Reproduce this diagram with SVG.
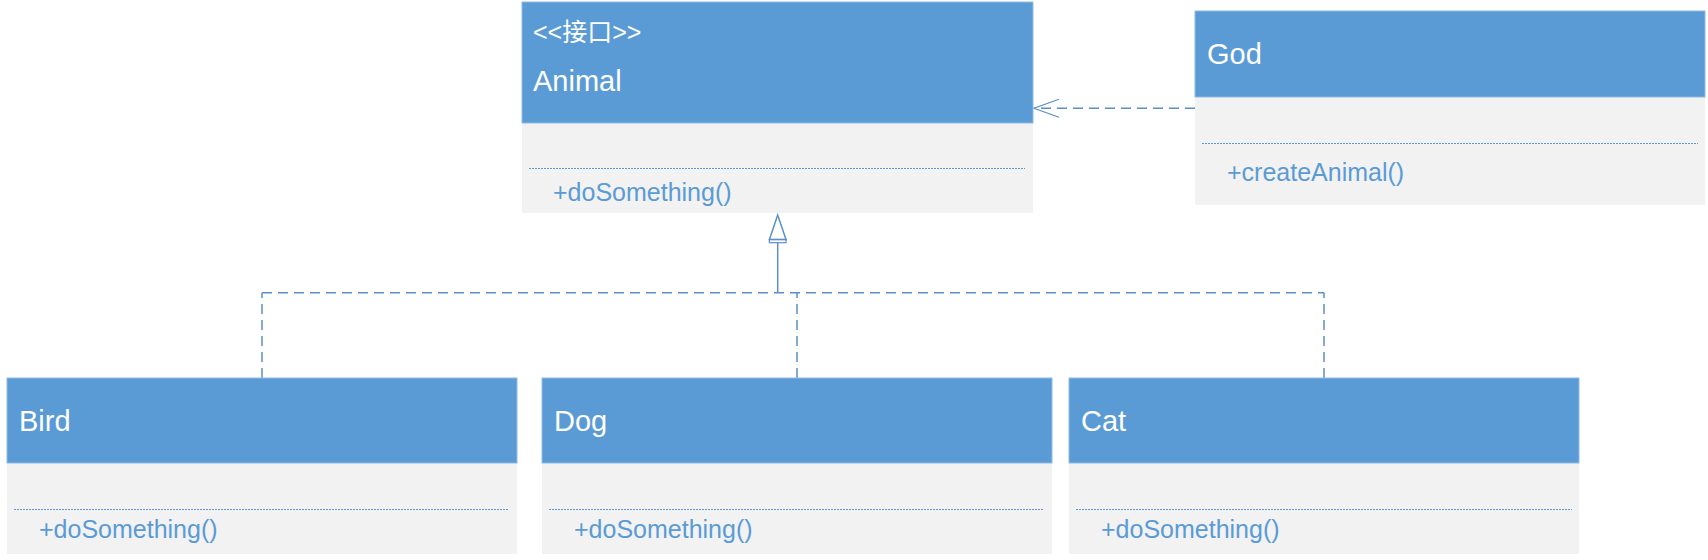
<svg xmlns="http://www.w3.org/2000/svg" width="1708" height="560" viewBox="0 0 1708 560">
<style>
.hdr{fill:#5b9bd5;stroke:#8fbbe3;stroke-width:1}
.body{fill:#f2f2f2}
.sep{stroke:#5b9bd5;stroke-width:1;stroke-dasharray:2 1;fill:none}
.name{font-family:"Liberation Sans","Noto Sans CJK SC",sans-serif;font-size:29px;fill:#ffffff}
.stereo{font-family:"Liberation Sans","Noto Sans CJK SC",sans-serif;font-size:25px;fill:#ffffff}
.op{font-family:"Liberation Sans","Noto Sans CJK SC",sans-serif;font-size:25px;fill:#5b9bd5}
.dash{stroke:#5b8fc8;stroke-width:1.5;stroke-dasharray:10 6;fill:none}
.solid{stroke:#5b8fc8;stroke-width:1.5;fill:none}
.thin{stroke:#5b8fc8;stroke-width:1.2;fill:none}
</style>
<rect width="1708" height="560" fill="#ffffff"/>
<g id="connectors">
<path class="dash" d="M1195 108.3 H1034"/>
<path class="thin" d="M1059 99.3 L1034 108.3 L1059 117.3"/>
<path class="dash" d="M262 292.7 H1324"/>
<path class="dash" d="M262 378 V292.7"/>
<path class="dash" d="M797 378 V292.7"/>
<path class="dash" d="M1324 378 V292.7"/>
<path class="solid" d="M777.7 292.7 V242.7"/>
<polygon class="solid" points="777.7,215 769.4,239.5 786,239.5" fill="#ffffff"/>
<rect class="thin" x="769.4" y="239.5" width="16.6" height="3.2" fill="#ffffff"/>
</g>
<g id="Animal">
<rect class="body" x="522" y="2" width="511" height="211"/>
<rect class="hdr" x="522" y="2" width="511" height="121"/>
<text class="stereo" x="533" y="41">&lt;&lt;接口&gt;&gt;</text>
<text class="name" x="533" y="91">Animal</text>
<line class="sep" x1="529" y1="168.5" x2="1025" y2="168.5"/>
<text class="op" x="553" y="201">+doSomething()</text>
</g>
<g id="God">
<rect class="body" x="1195" y="11" width="510" height="194"/>
<rect class="hdr" x="1195" y="11" width="510" height="86"/>
<text class="name" x="1207" y="64">God</text>
<line class="sep" x1="1202" y1="143.5" x2="1698" y2="143.5"/>
<text class="op" x="1227" y="181">+createAnimal()</text>
</g>
<g id="Bird">
<rect class="body" x="7" y="378" width="510" height="176"/>
<rect class="hdr" x="7" y="378" width="510" height="85"/>
<text class="name" x="19" y="431">Bird</text>
<line class="sep" x1="14" y1="509.5" x2="509" y2="509.5"/>
<text class="op" x="39" y="538">+doSomething()</text>
</g>
<g id="Dog">
<rect class="body" x="542" y="378" width="510" height="176"/>
<rect class="hdr" x="542" y="378" width="510" height="85"/>
<text class="name" x="554" y="431">Dog</text>
<line class="sep" x1="549" y1="509.5" x2="1044" y2="509.5"/>
<text class="op" x="574" y="538">+doSomething()</text>
</g>
<g id="Cat">
<rect class="body" x="1069" y="378" width="510" height="176"/>
<rect class="hdr" x="1069" y="378" width="510" height="85"/>
<text class="name" x="1081" y="431">Cat</text>
<line class="sep" x1="1076" y1="509.5" x2="1572" y2="509.5"/>
<text class="op" x="1101" y="538">+doSomething()</text>
</g>
</svg>
